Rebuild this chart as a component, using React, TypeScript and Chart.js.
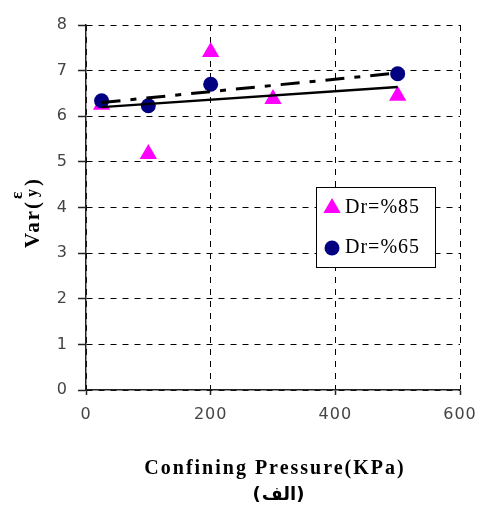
import React, { useEffect, useRef } from "react";
import { Chart, registerables } from "chart.js";

Chart.register(...registerables);

// ---- data ----
const pressureDr85 = [25, 100, 200, 300, 500];
const varDr85 = [6.25, 5.17, 7.41, 6.38, 6.45];
const pressureDr65 = [25, 100, 200, 500];
const varDr65 = [6.34, 6.23, 6.7, 6.93];
const trendPressure = [25, 500];
const trendDr85 = [6.2, 6.64];
const trendDr65 = [6.3, 6.95];
const seriesLabels = ["Dr=%85", "Dr=%65"];
const xTicks = [0, 200, 400, 600];
const yTicks = [0, 1, 2, 3, 4, 5, 6, 7, 8];
const xTitle = "Confining Pressure(KPa)";
const caption = "(الف)";

const pts = (xs: number[], ys: number[]) => xs.map((x, i) => ({ x, y: ys[i] }));

const SERIF = "'Liberation Serif', 'Times New Roman', serif";
const TICK_FONT = "'DejaVu Sans', Verdana, sans-serif";

const spacing = {
  id: "spacing",
  beforeDraw(chart: any) {
    chart.ctx.letterSpacing = "1px";
  },
};

const annotations = {
  id: "annotations",
  afterDraw(chart: any) {
    const { ctx } = chart;
    ctx.save();
    // X title
    ctx.fillStyle = "#000";
    ctx.letterSpacing = "2px";
    ctx.font = `bold 20px ${SERIF}`;
    ctx.textAlign = "center";
    ctx.textBaseline = "alphabetic";
    ctx.fillText(xTitle, 275, 474);
    // caption
    ctx.letterSpacing = "1px";
    ctx.font = "bold 18px 'DejaVu Sans', sans-serif";
    ctx.fillText(caption, 279, 500);

    // Y title Var(ε y)
    ctx.save();
    ctx.translate(39, 248);
    ctx.rotate(-Math.PI / 2);
    ctx.textAlign = "left";
    ctx.letterSpacing = "2px";
    ctx.font = `bold 21px ${SERIF}`;
    const base = "Var(";
    ctx.fillText(base, 0, 0);
    let x = ctx.measureText(base).width;
    ctx.letterSpacing = "0px";
    ctx.font = `bold 17px ${SERIF}`;
    ctx.fillText("ε", x + 1, -17);
    ctx.font = `bold 16px ${SERIF}`;
    ctx.fillText("y", x + 3, -2);
    x += Math.max(ctx.measureText("ε").width, ctx.measureText("y").width) + 6;
    ctx.font = `bold 21px ${SERIF}`;
    ctx.fillText(")", x, 0);
    ctx.restore();

    // legend
    const lx = 316, ly = 187, lw = 119, lh = 80;
    ctx.fillStyle = "#fff";
    ctx.fillRect(lx, ly, lw, lh);
    ctx.strokeStyle = "#000";
    ctx.lineWidth = 1;
    ctx.strokeRect(lx + 0.5, ly + 0.5, lw, lh);
    const entries = [chart.data.datasets[2], chart.data.datasets[3]];
    entries.forEach((ds: any, i: number) => {
      const cy = ly + 21 + i * 40;
      const cx = lx + 16;
      ctx.fillStyle = ds.backgroundColor;
      ctx.beginPath();
      if (ds.pointStyle === "triangle") {
        const r = 10;
        ctx.moveTo(cx, cy - r);
        ctx.lineTo(cx + r * Math.sin((2 * Math.PI) / 3), cy - r * Math.cos((2 * Math.PI) / 3));
        ctx.lineTo(cx + r * Math.sin((4 * Math.PI) / 3), cy - r * Math.cos((4 * Math.PI) / 3));
        ctx.closePath();
      } else {
        ctx.arc(cx, cy, 7.5, 0, Math.PI * 2);
      }
      ctx.fill();
      ctx.fillStyle = "#000";
      ctx.letterSpacing = "1px";
      ctx.font = `20px ${SERIF}`;
      ctx.textAlign = "left";
      ctx.textBaseline = "middle";
      ctx.fillText(ds.label, lx + 29, cy);
    });
    ctx.restore();
  },
};

export default function App() {
  const ref = useRef<HTMLCanvasElement | null>(null);
  useEffect(() => {
    if (!ref.current) return;
    const chart = new Chart(ref.current, {
      type: "scatter",
      data: {
        datasets: [
          {
            label: "trend85",
            data: pts(trendPressure, trendDr85),
            showLine: true,
            borderColor: "#000",
            borderWidth: 2.5,
            pointRadius: 0,
            order: 0,
          },
          {
            label: "trend65",
            data: pts(trendPressure, trendDr65),
            showLine: true,
            borderColor: "#000",
            borderWidth: 3,
            borderDash: [19, 10, 6, 10],
            pointRadius: 0,
            order: 0,
          },
          {
            label: seriesLabels[0],
            data: pts(pressureDr85, varDr85),
            pointStyle: "triangle",
            pointRadius: 10,
            backgroundColor: "#FF00FF",
            borderColor: "#FF00FF",
            borderWidth: 0,
            order: 2,
          },
          {
            label: seriesLabels[1],
            data: pts(pressureDr65, varDr65),
            pointStyle: "circle",
            pointRadius: 7.5,
            backgroundColor: "#000080",
            borderColor: "#000080",
            borderWidth: 0,
            order: 1,
          },
        ],
      },
      options: {
        animation: false,
        responsive: false,
        devicePixelRatio: 1,
        layout: { padding: { top: 25, right: 21, left: 0, bottom: 0 } },
        plugins: { legend: { display: false }, tooltip: { enabled: false } },
        scales: {
          x: {
            type: "linear",
            min: xTicks[0],
            max: xTicks[xTicks.length - 1],
            afterBuildTicks: (s: any) => {
              s.ticks = xTicks.map((v) => ({ value: v }));
            },
            afterFit: (s: any) => {
              s.height = 120;
              s.paddingLeft = 0;
              s.paddingRight = 0;
            },
            grid: {
              color: "#000",
              lineWidth: 1,
              tickLength: 5,
              tickColor: "#222",
              tickWidth: 1.5,
            },
            border: { display: true, color: "#222", width: 1.5, dash: [6, 6] },
            ticks: {
              color: "#444",
              padding: 10,
              font: { family: TICK_FONT, size: 16 },
            },
          },
          y: {
            type: "linear",
            min: yTicks[0],
            max: yTicks[yTicks.length - 1],
            afterBuildTicks: (s: any) => {
              s.ticks = yTicks.map((v) => ({ value: v }));
            },
            afterFit: (s: any) => {
              s.width = 86;
              s.paddingTop = 0;
              s.paddingBottom = 0;
            },
            grid: {
              color: "#000",
              lineWidth: 1,
              tickLength: 8,
              tickColor: "#222",
              tickWidth: 1.5,
            },
            border: { display: true, color: "#222", width: 1.5, dash: [6, 6] },
            ticks: {
              color: "#444",
              padding: 10,
              font: { family: TICK_FONT, size: 16 },
            },
          },
        },
      },
      plugins: [spacing, annotations],
    });
    return () => chart.destroy();
  }, []);
  return (
    <div style={{ position: "fixed", left: 0, top: 0, width: 481, height: 510, background: "#fff" }}>
      <canvas ref={ref} width={481} height={510} style={{ width: 481, height: 510, display: "block" }} />
    </div>
  );
}
